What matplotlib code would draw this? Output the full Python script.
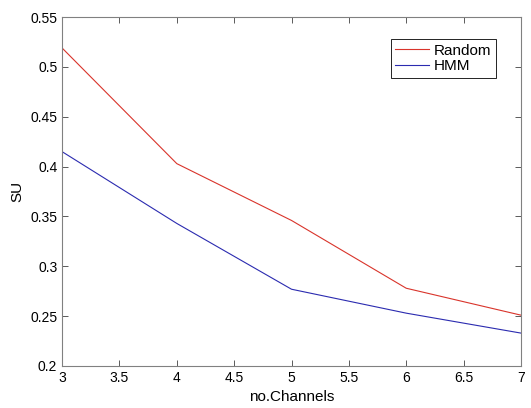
import numpy as np
import matplotlib
matplotlib.use('Agg')
import matplotlib.pyplot as plt

# data
channels = [3, 4, 5, 6, 7]
su_random = [0.519, 0.403, 0.346, 0.278, 0.251]
su_hmm = [0.415, 0.343, 0.277, 0.253, 0.233]

plt.rcParams['font.family'] = ['Liberation Sans', 'DejaVu Sans']
plt.rcParams['font.size'] = 10

fig = plt.figure(figsize=(5.31, 4.08), dpi=100)
ax = fig.add_axes([0.117, 0.103, 0.864, 0.855])

ax.plot(channels, su_random, color='#d9342b', lw=0.8, label='Random')
ax.plot(channels, su_hmm, color='#2b2bb0', lw=0.8, label='HMM')

ax.set_xlim(3, 7)
ax.set_ylim(0.2, 0.55)
ax.set_xticks(np.arange(3, 7.01, 0.5))
ax.set_xticklabels(['3', '3.5', '4', '4.5', '5', '5.5', '6', '6.5', '7'])
ax.set_yticks(np.arange(0.2, 0.551, 0.05))
ax.set_yticklabels(['0.2', '0.25', '0.3', '0.35', '0.4', '0.45', '0.5', '0.55'])
ax.tick_params(direction='in', length=4, width=0.6, top=True, right=True, colors='#404040', labelcolor='black')
for s in ax.spines.values():
    s.set_color('#808080')
    s.set_linewidth(0.8)

ax.set_xlabel('no.Channels', fontsize=11)
ax.set_ylabel('SU', fontsize=11)

leg = ax.legend(loc='upper right', bbox_to_anchor=(0.945, 0.937), borderaxespad=0,
                fancybox=False, edgecolor='black', framealpha=1, handlelength=2.2,
                handletextpad=0.3, borderpad=0.3, labelspacing=0.1, fontsize=11)
leg.get_frame().set_linewidth(0.6)

fig.savefig('out.png', dpi=100)
